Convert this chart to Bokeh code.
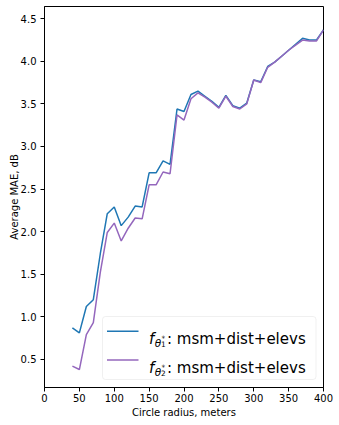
from bokeh.plotting import figure
from bokeh.models import (FixedTicker, PrintfTickFormatter, BoxAnnotation, Label,
                          Range1d)
from bokeh.embed import file_html
from bokeh.resources import INLINE

# ---------------- data ----------------
radius = [40, 50, 60, 70, 80, 90, 100, 110, 120, 130, 140, 150, 160, 170, 180,
          190, 200, 210, 220, 230, 240, 250, 260, 270, 280, 290, 300, 310, 320,
          330, 340, 350, 360, 370, 380, 390, 400]
mae_theta1 = [0.87, 0.81, 1.12, 1.20, 1.74, 2.21, 2.29, 2.07, 2.17, 2.30, 2.29,
              2.69, 2.69, 2.83, 2.79, 3.44, 3.41, 3.61, 3.65, 3.59, 3.53, 3.46,
              3.60, 3.48, 3.45, 3.51, 3.78, 3.76, 3.94, 3.99, 4.06, 4.13, 4.20,
              4.27, 4.25, 4.25, 4.37]
mae_theta2 = [0.42, 0.38, 0.79, 0.93, 1.52, 1.99, 2.10, 1.89, 2.04, 2.16, 2.15,
              2.55, 2.55, 2.70, 2.68, 3.37, 3.31, 3.56, 3.63, 3.58, 3.52, 3.45,
              3.59, 3.47, 3.44, 3.50, 3.78, 3.75, 3.93, 3.99, 4.06, 4.13, 4.19,
              4.25, 4.24, 4.24, 4.37]
series_subscripts = ["1", "2"]
series_label = ": msm+dist+elevs"
series_colors = ["#1f77b4", "#9467bd"]
x_ticks = [0, 50, 100, 150, 200, 250, 300, 350, 400]
y_ticks = [0.5, 1.0, 1.5, 2.0, 2.5, 3.0, 3.5, 4.0, 4.5]
x_label = "Circle radius, meters"
y_label = "Average MAE, dB"

FONT = "DejaVu Sans"
W, H = 331, 417

p = figure(width=W, height=H, output_backend="svg", toolbar_location=None,
           x_range=Range1d(0, 400), y_range=Range1d(0.169, 4.644),
           min_border_left=37, min_border_right=13, min_border_top=1,
           min_border_bottom=35)
p.margin = (5, 0, 0, 5)
p.background_fill_color = "white"
p.border_fill_color = "white"
p.outline_line_color = "black"
p.outline_line_width = 1
p.xgrid.visible = False
p.ygrid.visible = False

for ax in (p.xaxis[0], p.yaxis[0]):
    ax.axis_line_color = "black"
    ax.axis_line_width = 1
    ax.major_tick_line_color = "black"
    ax.major_tick_line_width = 1
    ax.major_tick_out = 4
    ax.major_tick_in = 0
    ax.minor_tick_line_color = None
    ax.major_label_text_font = FONT
    ax.major_label_text_font_size = "10px"
    ax.major_label_text_color = "black"
    ax.axis_label_text_font = FONT
    ax.axis_label_text_font_size = "10px"
    ax.axis_label_text_font_style = "normal"
    ax.axis_label_text_color = "black"

p.xaxis.ticker = FixedTicker(ticks=x_ticks)
p.yaxis.ticker = FixedTicker(ticks=y_ticks)
p.xaxis.formatter = PrintfTickFormatter(format="%d")
p.yaxis.formatter = PrintfTickFormatter(format="%.1f")
p.xaxis.axis_label = x_label
p.yaxis.axis_label = y_label
p.xaxis.major_label_standoff = 2
p.xaxis.axis_label_standoff = 2
p.yaxis.major_label_standoff = 4
p.yaxis.axis_label_standoff = -2

for ys, col in zip([mae_theta1, mae_theta2], series_colors):
    p.line(radius, ys, line_color=col, line_width=1.5)

# ---------------- legend (frame-relative screen px, y up) ----------------
p.add_layout(BoxAnnotation(left=58, right=271.5, bottom=8.0, top=71.0,
                           left_units="screen", right_units="screen",
                           top_units="screen", bottom_units="screen",
                           fill_color="white", fill_alpha=0.8,
                           line_color="#cccccc", line_width=1,
                           border_radius=3))
row_y = [56.3, 27.6]
for ry, col, sub in zip(row_y, series_colors, series_subscripts):
    p.add_layout(BoxAnnotation(left=62.5, right=94.0, bottom=ry - 0.75,
                               top=ry + 0.75,
                               left_units="screen", right_units="screen",
                               top_units="screen", bottom_units="screen",
                               fill_color=col, fill_alpha=1, line_alpha=0))
    base = ry - 7.6
    p.add_layout(Label(x=104.5, y=base, x_units="screen", y_units="screen",
                       text="f", text_font=FONT, text_font_style="italic",
                       text_font_size="15px", text_baseline="alphabetic",
                       text_color="black"))
    p.add_layout(Label(x=110.3, y=base - 4, x_units="screen", y_units="screen",
                       text="θ", text_font=FONT, text_font_style="italic",
                       text_font_size="10.5px", text_baseline="alphabetic",
                       text_color="black"))
    p.add_layout(Label(x=116.6, y=base - 5.3, x_units="screen", y_units="screen",
                       text=sub, text_font=FONT, text_font_style="normal",
                       text_font_size="7.4px", text_baseline="alphabetic",
                       text_color="black"))
    p.add_layout(Label(x=117.0, y=base + 0.5, x_units="screen", y_units="screen",
                       text="*", text_font=FONT, text_font_style="normal",
                       text_font_size="7.4px", text_baseline="alphabetic",
                       text_color="black"))
    p.add_layout(Label(x=122.5, y=base, x_units="screen", y_units="screen",
                       text=series_label, text_font=FONT,
                       text_font_size="15px", text_baseline="alphabetic",
                       text_color="black"))

open("out.html", "w").write(file_html(p, INLINE))
